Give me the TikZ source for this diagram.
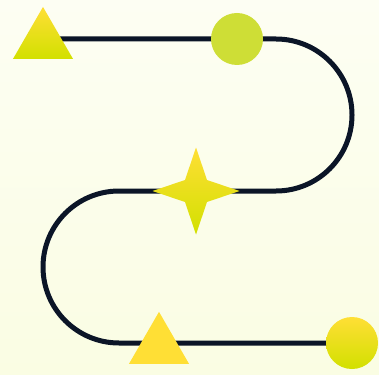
\documentclass[tikz,border=0pt]{standalone}
\usetikzlibrary{shapes.geometric}
\definecolor{bgtop}{HTML}{FDFEF3}
\definecolor{bgbot}{HTML}{FAFDE3}
\definecolor{ink}{HTML}{0B1527}
\definecolor{yel}{HTML}{FFDF35}
\definecolor{lime}{HTML}{D2E000}
\definecolor{limedot}{HTML}{CEDE36}
\tikzset{
  conn/.style={draw=ink, line width=5pt, rounded corners=76pt},
  tri/.style={regular polygon, regular polygon sides=3, minimum size=69.3pt, inner sep=0pt, outer sep=0pt},
  dot/.style={circle, minimum size=52pt, inner sep=0pt, outer sep=0pt},
  spark/.style={star, star points=4, star point ratio=2.8, minimum size=87pt, inner sep=0pt, outer sep=0pt},
  grad/.style={top color=yel, bottom color=lime, draw=none},
}
\begin{document}
\begin{tikzpicture}[x=1pt,y=-1pt]
\useasboundingbox (0,0) rectangle (379,374);
\shade[top color=bgtop, bottom color=bgbot] (0,0) rectangle (379,374);
\coordinate (pA) at (43,39);
\coordinate (pB) at (237,39);
\coordinate (pC) at (196,191);
\coordinate (pD) at (159,343);
\coordinate (pE) at (352,343);
\coordinate (c1) at (352,39);
\coordinate (c2) at (352,191);
\coordinate (c3) at (43,191);
\coordinate (c4) at (43,343);
\draw[conn] (pA) -- (c1) -- (c2) -- (c3) -- (c4) -- (pE);
\node[tri, grad] (triA) at (43,41.6) {};
\node[dot, fill=limedot] (dotB) at (pB) {};
\node[spark, grad] (starC) at (pC) {};
\node[tri, fill=yel] (triD) at (159,346.5) {};
\node[dot, grad] (dotE) at (pE) {};
\end{tikzpicture}
\end{document}
